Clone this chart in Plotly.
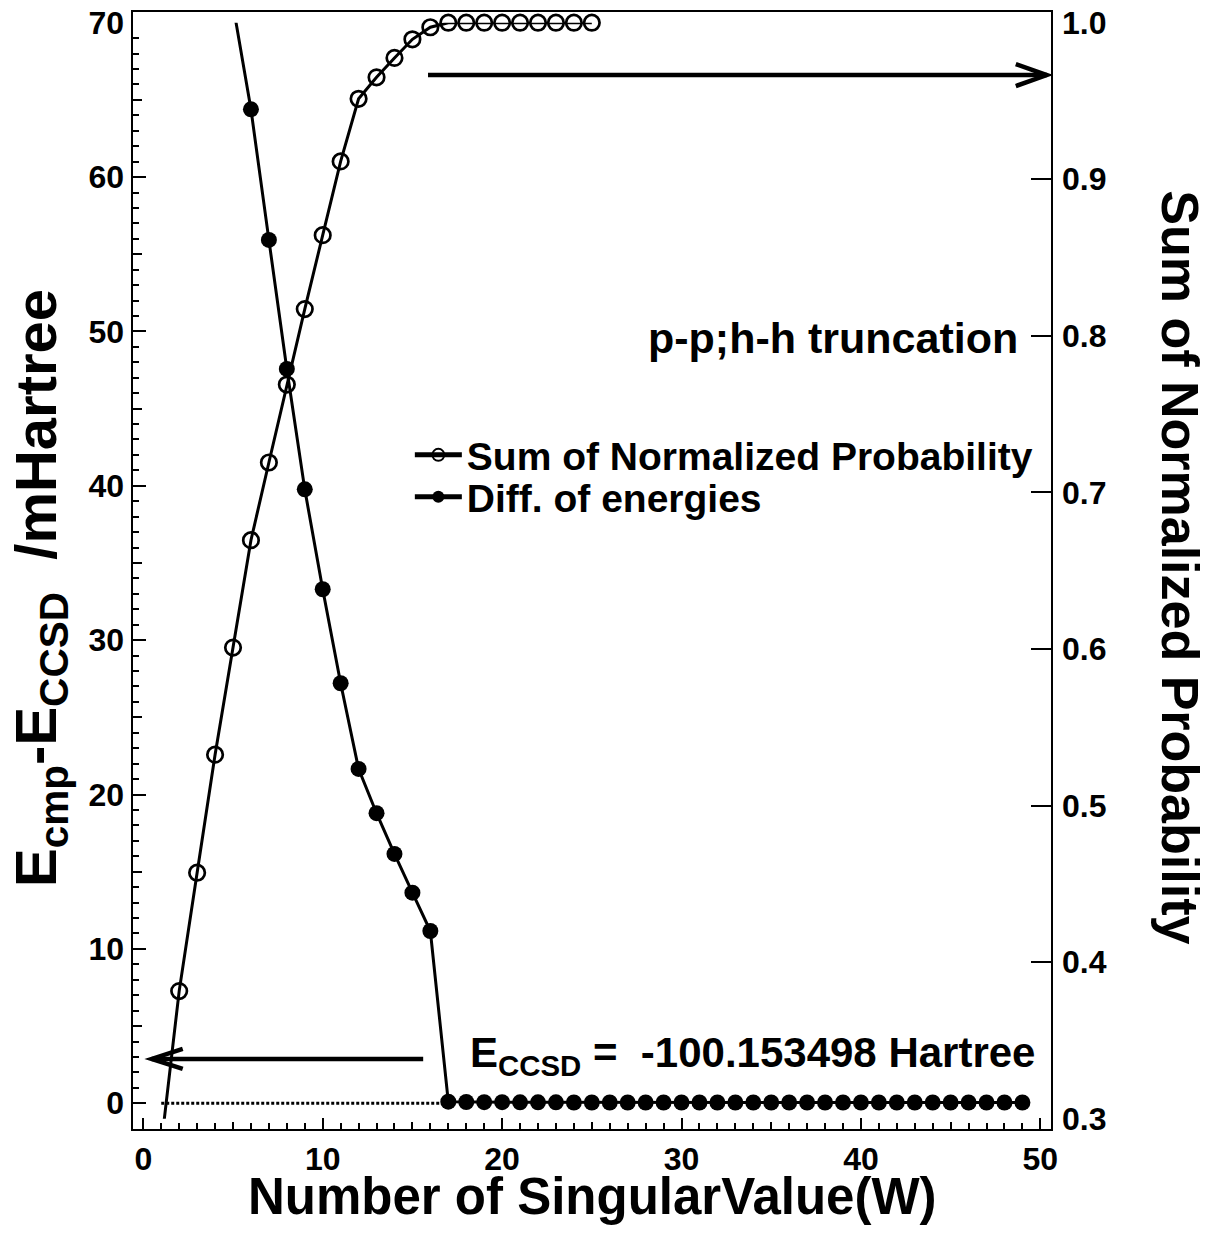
import plotly.graph_objects as go

# ---------------- data ----------------
n_prob = [1, 2, 3, 4, 5, 6, 7, 8, 9, 10, 11, 12, 13, 14, 15, 16, 17, 18, 19, 20, 21, 22, 23, 24, 25]
sum_prob = [0.283, 0.3815, 0.4571, 0.5325, 0.6009, 0.6695, 0.7191, 0.7689, 0.8171, 0.8643,
            0.9114, 0.9514, 0.9651, 0.9775, 0.9894, 0.9971, 1.0, 1.0, 1.0, 1.0,
            1.0, 1.0, 1.0, 1.0, 1.0]

n_diff = [5, 6, 7, 8, 9, 10, 11, 12, 13, 14, 15, 16, 17, 18, 19, 20, 21, 22, 23, 24, 25, 26, 27,
          28, 29, 30, 31, 32, 33, 34, 35, 36, 37, 38, 39, 40, 41, 42, 43, 44, 45, 46, 47, 48, 49]
diff_energy = [71.15, 64.39, 55.93, 47.57, 39.77, 33.30, 27.21, 21.66, 18.79, 16.15, 13.64, 11.16,
               0.10, 0.08, 0.07, 0.07, 0.06, 0.06, 0.06, 0.05, 0.05, 0.05, 0.05, 0.05, 0.05, 0.05,
               0.05, 0.05, 0.05, 0.05, 0.05, 0.05, 0.05, 0.05, 0.05, 0.05, 0.05, 0.05, 0.05, 0.05,
               0.05, 0.05, 0.05, 0.05, 0.05]

baseline_x = [1, 17]          # dotted E_CCSD reference line (y = 0)
baseline_y = [0, 0]

x_ticks = [0, 10, 20, 30, 40, 50]
x_mid_ticks = [5, 15, 25, 35, 45]
y_ticks = [0, 10, 20, 30, 40, 50, 60, 70]
y_mid_ticks = [5, 15, 25, 35, 45, 55, 65]
y2_ticks = [0.3, 0.4, 0.5, 0.6, 0.7, 0.8, 0.9, 1.0]

x_range = [-0.63, 50.65]
y_range = [-1, 70]
y2_range = [0.3, 1.0]

label_prob = "Sum of Normalized Probability"
label_diff = "Diff. of energies"
note_trunc = "p-p;h-h truncation"
note_eccsd = "E<sub>CCSD</sub> =\u00a0\u00a0-100.153498 Hartree"
x_title = "Number of SingularValue(W)"
y_title = "E<sub>cmp</sub>-E<sub>CCSD</sub>\u00a0\u00a0/mHartree"
y2_title = "Sum of Normalized Probability"

# guide arrows (data coordinates, left axis)
arrow_right = dict(x0=15.87, x1=50.36, y=66.61)
arrow_left = dict(x0=15.6, x1=0.47, y=2.87)

# ---------------- figure ----------------
FONT = "Liberation Sans"
BLACK = "#000000"

def tfont(size):
    return dict(family=FONT, size=size, color=BLACK, weight="bold")

fig = go.Figure()

prob_sizes = [15.5 if y2_range[0] <= v <= y2_range[1] else 0 for v in sum_prob]
diff_sizes = [16 if y_range[0] <= v <= y_range[1] else 0 for v in diff_energy]

fig.add_trace(go.Scatter(
    x=n_prob, y=sum_prob, yaxis="y2", name=label_prob, mode="lines+markers", legend="legend",
    line=dict(color=BLACK, width=3),
    marker=dict(symbol="circle-open", size=prob_sizes, color=BLACK, opacity=1,
                line=dict(width=2.7, color=BLACK)),
    cliponaxis=False,
))
fig.add_trace(go.Scatter(
    x=n_diff, y=diff_energy, yaxis="y", name=label_diff, mode="lines+markers", legend="legend2",
    line=dict(color=BLACK, width=3),
    marker=dict(symbol="circle", size=diff_sizes, color=BLACK, opacity=1,
                line=dict(width=0, color=BLACK)),
    cliponaxis=False,
))
fig.add_trace(go.Scatter(
    x=baseline_x, y=baseline_y, mode="lines", showlegend=False, hoverinfo="skip",
    line=dict(color=BLACK, width=3, dash="3px,2px"),
))
# carriers for the medium-tick overlay axes
fig.add_trace(go.Scatter(x=[None], y=[None], xaxis="x2", yaxis="y", showlegend=False, hoverinfo="skip"))
fig.add_trace(go.Scatter(x=[None], y=[None], xaxis="x", yaxis="y3", showlegend=False, hoverinfo="skip"))

ydom = [0.0101, 0.98954]
leg_common = dict(xanchor="left", yanchor="middle", font=tfont(39), bgcolor="rgba(0,0,0,0)",
                  itemwidth=47, itemsizing="constant", tracegroupgap=0, borderwidth=0)

fig.update_layout(
    width=1217, height=1233,
    margin=dict(l=132, r=165, t=11, b=103, autoexpand=False),
    paper_bgcolor="white", plot_bgcolor="white",
    font=tfont(32),
    showlegend=True,
    legend=dict(x=0.302, y=0.6032, **leg_common),
    legend2=dict(x=0.302, y=0.5657, **leg_common),
    xaxis=dict(range=x_range, domain=[0, 1], anchor="free", position=0, automargin=False,
               tickvals=x_ticks, ticks="inside", ticklen=11, tickwidth=2, tickcolor=BLACK,
               minor=dict(dtick=1, tick0=0, ticks="inside", ticklen=6, tickwidth=2, tickcolor=BLACK),
               showline=True, linewidth=2, linecolor=BLACK, showgrid=False, zeroline=False,
               tickfont=tfont(32), ticklabelstandoff=1),
    xaxis2=dict(range=x_range, overlaying="x", anchor="free", position=0, automargin=False,
                tickvals=x_mid_ticks, ticks="inside", ticklen=8, tickwidth=2, tickcolor=BLACK,
                showticklabels=False, showgrid=False, zeroline=False, showline=False),
    yaxis=dict(range=y_range, domain=ydom, anchor="free", position=0, automargin=False,
               tickvals=y_ticks, ticks="inside", ticklen=13, tickwidth=2, tickcolor=BLACK,
               minor=dict(dtick=1, tick0=0, ticks="inside", ticklen=6, tickwidth=2, tickcolor=BLACK),
               showline=False, showgrid=False, zeroline=False,
               tickfont=tfont(32), ticklabelstandoff=8),
    yaxis2=dict(range=y2_range, domain=ydom, overlaying="y", anchor="free", position=1, side="right",
                automargin=False,
                tickvals=y2_ticks, tickformat=".1f", ticks="inside", ticklen=21, tickwidth=2, tickcolor=BLACK,
                showline=False, showgrid=False, zeroline=False,
                tickfont=tfont(32), ticklabelstandoff=9),
    yaxis3=dict(range=y_range, domain=ydom, overlaying="y", anchor="free", position=0, automargin=False,
                tickvals=y_mid_ticks, ticks="inside", ticklen=9, tickwidth=2, tickcolor=BLACK,
                showticklabels=False, showgrid=False, zeroline=False, showline=False),
)

shapes = [
    dict(type="rect", xref="paper", yref="paper", x0=0, x1=1, y0=0, y1=1,
         line=dict(color=BLACK, width=2), layer="above"),
]
for a in (arrow_right, arrow_left):
    shapes.append(dict(type="line", xref="x", yref="y", x0=a["x0"], x1=a["x1"], y0=a["y"], y1=a["y"],
                       line=dict(color=BLACK, width=4.5)))
# chevron heads (pixel sized, anchored at the tips)
shapes.append(dict(type="path", xref="x", yref="y", xsizemode="pixel", ysizemode="pixel",
                   xanchor=arrow_right["x1"], yanchor=arrow_right["y"],
                   path="M-31,11 L0,0 L-31,-11", line=dict(color=BLACK, width=4.5)))
shapes.append(dict(type="path", xref="x", yref="y", xsizemode="pixel", ysizemode="pixel",
                   xanchor=arrow_left["x1"], yanchor=arrow_left["y"],
                   path="M31,10 L0,0 L31,-10", line=dict(color=BLACK, width=4.5)))
fig.update_layout(shapes=shapes)

fig.update_layout(annotations=[
    dict(text=note_trunc, xref="paper", yref="paper", x=0.965, y=0.7078,
         xanchor="right", yanchor="middle", showarrow=False, font=tfont(43)),
    dict(text=note_eccsd, xref="paper", yref="paper", x=0.3652, y=0.067,
         xanchor="left", yanchor="middle", showarrow=False, font=tfont(42)),
    dict(text=x_title, xref="paper", yref="paper", x=0.5, y=-0.059,
         xanchor="center", yanchor="middle", showarrow=False, font=tfont(51)),
    dict(text=y_title, xref="paper", yref="paper", x=-0.0999, y=0.4844, textangle=-90,
         xanchor="center", yanchor="middle", showarrow=False, font=tfont(58)),
    dict(text=y2_title, xref="paper", yref="paper", x=1.139, y=0.503, textangle=90,
         xanchor="center", yanchor="middle", showarrow=False, font=tfont(52)),
])

fig.write_html("out.html")
